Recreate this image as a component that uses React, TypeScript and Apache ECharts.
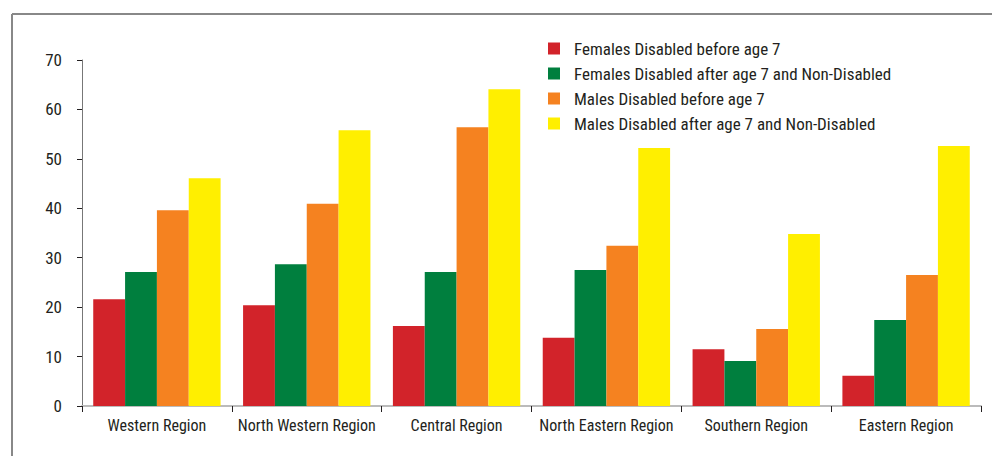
import React, { useEffect, useRef } from "react";
import * as echarts from "echarts";

const categories = [
  "Western Region",
  "North Western Region",
  "Central Region",
  "North Eastern Region",
  "Southern Region",
  "Eastern Region",
];
const seriesNames = [
  "Females Disabled before age 7",
  "Females Disabled after age 7 and Non-Disabled",
  "Males Disabled before age 7",
  "Males Disabled after age 7 and Non-Disabled",
];
const femalesBefore7 = [21.6, 20.4, 16.2, 13.8, 11.5, 6.1];
const femalesAfter7 = [27.1, 28.7, 27.1, 27.5, 9.1, 17.4];
const malesBefore7 = [39.6, 40.9, 56.4, 32.4, 15.6, 26.5];
const malesAfter7 = [46.1, 55.8, 64.1, 52.2, 34.8, 52.6];
const colors = ["#D2232A", "#007F3E", "#F58220", "#FFEF00"];

const FONT = "'Liberation Sans Narrow', 'Roboto Condensed', 'Liberation Sans', sans-serif";

export default function App() {
  const ref = useRef<HTMLDivElement>(null);
  useEffect(() => {
    if (!ref.current) return;
    const chart = echarts.init(ref.current, undefined, { renderer: "svg" });
    const data = [femalesBefore7, femalesAfter7, malesBefore7, malesAfter7];
    chart.setOption({
      animation: false,
      backgroundColor: "#ffffff",
      color: colors,
      textStyle: { fontFamily: FONT },
      grid: { left: 82, right: 11, top: 60, bottom: 50, containLabel: false },
      legend: {
        orient: "vertical",
        left: 543,
        top: 35,
        itemWidth: 12,
        itemHeight: 12,
        itemGap: 8,
        icon: "rect",
        textStyle: {
          fontFamily: FONT,
          fontSize: 17,
          color: "#231f20",
          padding: [0, 0, 0, 9],
          lineHeight: 17,
        },
        data: seriesNames,
      },
      xAxis: {
        type: "category",
        data: categories,
        axisLine: { lineStyle: { color: "#bbbbbb", width: 2 } },
        axisTick: { show: true, length: 6, lineStyle: { color: "#231f20" } },
        axisLabel: { interval: 0, fontFamily: FONT, fontSize: 16, color: "#231f20", margin: 11 },
      },
      yAxis: {
        type: "value",
        min: 0,
        max: 70,
        interval: 10,
        splitLine: { show: false },
        axisLine: { show: true, lineStyle: { color: "#777777", width: 1 } },
        axisTick: { show: true, length: 5, lineStyle: { color: "#231f20" } },
        axisLabel: { fontFamily: FONT, fontSize: 17, color: "#231f20", margin: 20 },
      },
      series: seriesNames.map((name, i) => ({
        name,
        type: "bar",
        data: data[i],
        barGap: "0%",
        barCategoryGap: "15%",
        itemStyle: { color: colors[i] },
      })),
      graphic: [
        { type: "line", shape: { x1: 12, y1: 14, x2: 992, y2: 14 }, style: { stroke: "#888888", lineWidth: 2 } },
        { type: "line", shape: { x1: 12, y1: 14, x2: 12, y2: 456 }, style: { stroke: "#888888", lineWidth: 2 } },
      ],
    });
    return () => chart.dispose();
  }, []);
  return <div ref={ref} style={{ width: 992, height: 456, position: "absolute", left: 0, top: 0 }} />;
}
